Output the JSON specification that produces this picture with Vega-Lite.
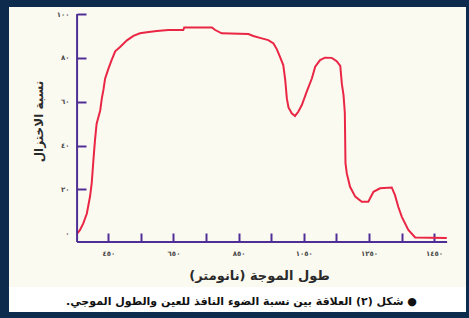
{
  "$schema": "https://vega.github.io/schema/vega-lite/v6.json",
  "background": "#0d2c4d",
  "padding": {"left": 9, "top": 7, "right": 3, "bottom": 6},
  "autosize": {"type": "pad"},
  "spacing": 0,
  "bounds": "flush",
  "config": {"font": "DejaVu Sans", "view": {"stroke": null}},
  "vconcat": [
    {
      "width": 457,
      "height": 280,
      "view": {"fill": "#fbfaf1", "stroke": null},
      "layer": [
        {
          "data": {"values": [
            {"wavelength": 355, "transmission": 0},
            {"wavelength": 363, "transmission": 1.5},
            {"wavelength": 373, "transmission": 4.5},
            {"wavelength": 384, "transmission": 9},
            {"wavelength": 394, "transmission": 17},
            {"wavelength": 399, "transmission": 23},
            {"wavelength": 404, "transmission": 33},
            {"wavelength": 409, "transmission": 42.5},
            {"wavelength": 414, "transmission": 50},
            {"wavelength": 425, "transmission": 56},
            {"wavelength": 430, "transmission": 61.5},
            {"wavelength": 435, "transmission": 65.5},
            {"wavelength": 440, "transmission": 70.5},
            {"wavelength": 450, "transmission": 75},
            {"wavelength": 460, "transmission": 79},
            {"wavelength": 471, "transmission": 83},
            {"wavelength": 486, "transmission": 85},
            {"wavelength": 507, "transmission": 88},
            {"wavelength": 527, "transmission": 90},
            {"wavelength": 547, "transmission": 91.2},
            {"wavelength": 568, "transmission": 91.7},
            {"wavelength": 599, "transmission": 92.2},
            {"wavelength": 634, "transmission": 92.7},
            {"wavelength": 680, "transmission": 92.7},
            {"wavelength": 683, "transmission": 93.9},
            {"wavelength": 768, "transmission": 93.9},
            {"wavelength": 778, "transmission": 92.7},
            {"wavelength": 798, "transmission": 91.2},
            {"wavelength": 880, "transmission": 90.9},
            {"wavelength": 895, "transmission": 90},
            {"wavelength": 921, "transmission": 88.9},
            {"wavelength": 941, "transmission": 88.1},
            {"wavelength": 957, "transmission": 86.6},
            {"wavelength": 967, "transmission": 84},
            {"wavelength": 977, "transmission": 80.5},
            {"wavelength": 987, "transmission": 76.7},
            {"wavelength": 993, "transmission": 70},
            {"wavelength": 998, "transmission": 61.5},
            {"wavelength": 1003, "transmission": 57.4},
            {"wavelength": 1013, "transmission": 54.7},
            {"wavelength": 1023, "transmission": 53.5},
            {"wavelength": 1033, "transmission": 55.4},
            {"wavelength": 1044, "transmission": 58.5},
            {"wavelength": 1059, "transmission": 64.6},
            {"wavelength": 1075, "transmission": 70.7},
            {"wavelength": 1085, "transmission": 76},
            {"wavelength": 1100, "transmission": 79},
            {"wavelength": 1115, "transmission": 80.1},
            {"wavelength": 1136, "transmission": 80},
            {"wavelength": 1151, "transmission": 78.5},
            {"wavelength": 1162, "transmission": 76.3},
            {"wavelength": 1167, "transmission": 68},
            {"wavelength": 1172, "transmission": 63},
            {"wavelength": 1176, "transmission": 55},
            {"wavelength": 1178, "transmission": 32},
            {"wavelength": 1182, "transmission": 27.3},
            {"wavelength": 1192, "transmission": 21.2},
            {"wavelength": 1208, "transmission": 16.7},
            {"wavelength": 1228, "transmission": 14.4},
            {"wavelength": 1248, "transmission": 14.4},
            {"wavelength": 1264, "transmission": 18.9},
            {"wavelength": 1284, "transmission": 20.5},
            {"wavelength": 1320, "transmission": 20.9},
            {"wavelength": 1330, "transmission": 17.4},
            {"wavelength": 1340, "transmission": 12.1},
            {"wavelength": 1351, "transmission": 7.5},
            {"wavelength": 1371, "transmission": 1.5},
            {"wavelength": 1392, "transmission": -1.9},
            {"wavelength": 1489, "transmission": -2.2}
          ]},
          "mark": {"type": "line", "color": "#ea2645", "strokeWidth": 2},
          "encoding": {
            "x": {
              "field": "wavelength",
              "type": "quantitative",
              "scale": {"domain": [145, 1548], "nice": false, "zero": false},
              "axis": {
                "orient": "bottom",
                "offset": -45,
                "domain": false,
                "grid": false,
                "values": [450, 550, 650, 750, 850, 950, 1050, 1150, 1250, 1350, 1450],
                "format": "d",
                "labelExpr": "datum.value % 200 == 50 ? replace(replace(replace(replace(replace(replace(replace(datum.label,regexp('0','g'),'٠'),regexp('1','g'),'١'),regexp('2','g'),'٢'),regexp('4','g'),'٤'),regexp('5','g'),'٥'),regexp('6','g'),'٦'),regexp('8','g'),'٨') : ''",
                "tickSize": -9,
                "tickWidth": 2,
                "tickColor": "#4f2f96",
                "labelFontSize": 7,
                "labelFontWeight": "bold",
                "labelColor": "#4a4a4a",
                "labelPadding": 16,
                "labelFlush": false,
                "labelOverlap": false,
                "title": "‏طول الموجة (نانومتر)‏",
                "titleFontSize": 13,
                "titleFontWeight": "bold",
                "titleColor": "#2a2a2a",
                "titleX": 250,
                "titleY": 33,
                "titleAlign": "center",
                "titleBaseline": "middle"
              }
            },
            "y": {
              "field": "transmission",
              "type": "quantitative",
              "scale": {"domain": [-24.5, 103.2], "nice": false, "zero": false},
              "axis": {
                "orient": "left",
                "offset": -68,
                "domain": false,
                "grid": false,
                "values": [0, 20, 40, 60, 80, 100],
                "format": "d",
                "labelExpr": "replace(replace(replace(replace(replace(replace(replace(datum.label,regexp('0','g'),'٠'),regexp('1','g'),'١'),regexp('2','g'),'٢'),regexp('4','g'),'٤'),regexp('5','g'),'٥'),regexp('6','g'),'٦'),regexp('8','g'),'٨')",
                "tickSize": -9,
                "tickWidth": 2,
                "tickColor": "#4f2f96",
                "tickOpacity": {"condition": {"test": "datum.value == 0", "value": 0}, "value": 1},
                "labelFontSize": 7,
                "labelFontWeight": "bold",
                "labelColor": "#4a4a4a",
                "labelPadding": 17,
                "labelFlush": false,
                "labelOverlap": false,
                "title": "نسبة الاختزال",
                "titleFontSize": 12,
                "titleFontWeight": "bold",
                "titleColor": "#2a2a2a",
                "titleAngle": -90,
                "titleX": -39,
                "titleY": 114,
                "titleAlign": "center",
                "titleBaseline": "middle"
              }
            }
          }
        },
        {
          "data": {"values": [{}]},
          "mark": {"type": "rule", "color": "#4f2f96", "strokeWidth": 2},
          "encoding": {
            "x": {"datum": 354, "type": "quantitative"},
            "x2": {"datum": 1490},
            "y": {"datum": -4, "type": "quantitative"}
          }
        },
        {
          "data": {"values": [{}]},
          "mark": {"type": "rule", "color": "#4f2f96", "strokeWidth": 2},
          "encoding": {
            "x": {"datum": 354, "type": "quantitative"},
            "y": {"datum": -4, "type": "quantitative"},
            "y2": {"datum": 100}
          }
        }
      ]
    },
    {
      "width": 457,
      "height": 25,
      "view": {"fill": "#ffffff", "stroke": null},
      "data": {"values": [{"caption": "‏● شكل (٢) العلاقة بين نسبة الضوء النافذ للعين والطول الموجي.‏"}]},
      "mark": {"type": "text", "fontSize": 11, "fontWeight": "bold", "color": "#111111", "align": "center", "baseline": "middle", "dx": 4, "dy": 2},
      "encoding": {"text": {"field": "caption", "type": "nominal"}}
    }
  ]
}
